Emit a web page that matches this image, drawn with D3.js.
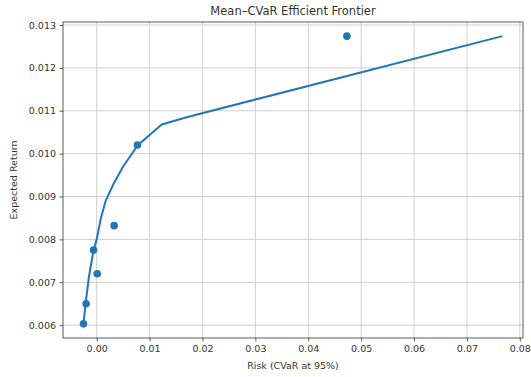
<!DOCTYPE html>
<html>
<head>
<meta charset="utf-8">
<script src="https://cdn.jsdelivr.net/npm/d3@7"></script>
<style>
  body { margin: 0; background: #fff; }
  text { font-family: "DejaVu Sans", sans-serif; fill: #333; }
  .grid line { stroke: #d0d0d0; stroke-width: 1; }
</style>
</head>
<body>
<div id="chart"></div>
<script>
// frontier line (risk, return)
var frontierRisk = [-0.0025, -0.0021, -0.0015, -0.0006, 0.0000, 0.0008, 0.0017, 0.0032, 0.0050, 0.0078, 0.0123, 0.0170, 0.0767];
var frontierRet  = [0.00603, 0.0065, 0.0071, 0.00775, 0.0080, 0.0085, 0.0089, 0.0093, 0.0097, 0.0102, 0.01068, 0.01085, 0.01274];

// individual assets
var assetRisk = [-0.0025, -0.0020, -0.0006, 0.0001, 0.0033, 0.0077, 0.0473];
var assetRet  = [0.00603, 0.0065, 0.00775, 0.0072, 0.00832, 0.0102, 0.01274];

var xTicks = [0, 0.01, 0.02, 0.03, 0.04, 0.05, 0.06, 0.07, 0.08];
var yTicks = [0.006, 0.007, 0.008, 0.009, 0.010, 0.011, 0.012, 0.013];

var width = 531, height = 377;
var plot = {left: 63, right: 523, top: 22, bottom: 338};
var blue = '#1f77b4';

var x = d3.scaleLinear()
  .domain([-0.00637, 0.0806])
  .range([plot.left, plot.right]);

var y = d3.scaleLinear()
  .domain([0.0057, 0.01307])
  .range([plot.bottom, plot.top]);

var svg = d3.select('#chart').append('svg')
  .attr('width', width)
  .attr('height', height);

// grid
var grid = svg.append('g').attr('class', 'grid');
grid.selectAll('.gx')
  .data(xTicks)
  .enter().append('line')
    .attr('x1', d => x(d)).attr('x2', d => x(d))
    .attr('y1', plot.top).attr('y2', plot.bottom);
grid.selectAll('.gy')
  .data(yTicks)
  .enter().append('line')
    .attr('y1', d => y(d)).attr('y2', d => y(d))
    .attr('x1', plot.left).attr('x2', plot.right);

// axes
var xAxis = d3.axisBottom(x)
  .tickValues(xTicks)
  .tickFormat(d3.format('.2f'))
  .tickSize(3.5)
  .tickPadding(3.5);
var yAxis = d3.axisLeft(y)
  .tickValues(yTicks)
  .tickFormat(d3.format('.3f'))
  .tickSize(3.5)
  .tickPadding(3.5);

var gX = svg.append('g')
  .attr('transform', `translate(0, ${plot.bottom})`)
  .call(xAxis);
var gY = svg.append('g')
  .attr('transform', `translate(${plot.left}, 0)`)
  .call(yAxis);

[gX, gY].forEach(function(g) {
  g.select('.domain').remove();
  g.selectAll('line').attr('stroke', '#333').attr('stroke-width', 0.8);
  g.selectAll('text')
    .style('font-size', '9.5px')
    .attr('fill', '#333');
});

// frame
svg.append('rect')
  .attr('x', plot.left).attr('y', plot.top)
  .attr('width', plot.right - plot.left)
  .attr('height', plot.bottom - plot.top)
  .attr('fill', 'none')
  .attr('stroke', '#333')
  .attr('stroke-width', 0.8);

// frontier
var line = d3.line()
  .x(d => x(d[0]))
  .y(d => y(d[1]));

svg.append('path')
  .attr('d', line(d3.zip(frontierRisk, frontierRet)))
  .attr('fill', 'none')
  .attr('stroke', blue)
  .attr('stroke-width', 2)
  .attr('stroke-linejoin', 'round');

// assets
svg.selectAll('.asset')
  .data(d3.zip(assetRisk, assetRet))
  .enter().append('circle')
    .attr('class', 'asset')
    .attr('cx', d => x(d[0]))
    .attr('cy', d => y(d[1]))
    .attr('r', 3.8)
    .attr('fill', blue);

// labels
svg.append('text')
  .attr('x', (plot.left + plot.right) / 2)
  .attr('y', 15)
  .attr('text-anchor', 'middle')
  .style('font-size', '11.5px')
  .text('Mean–CVaR Efficient Frontier');

svg.append('text')
  .attr('x', (plot.left + plot.right) / 2)
  .attr('y', 369)
  .attr('text-anchor', 'middle')
  .style('font-size', '9.5px')
  .text('Risk (CVaR at 95%)');

svg.append('text')
  .attr('transform', `translate(17, ${(plot.top + plot.bottom) / 2}) rotate(-90)`)
  .attr('text-anchor', 'middle')
  .style('font-size', '9.5px')
  .text('Expected Return');
</script>
</body>
</html>
